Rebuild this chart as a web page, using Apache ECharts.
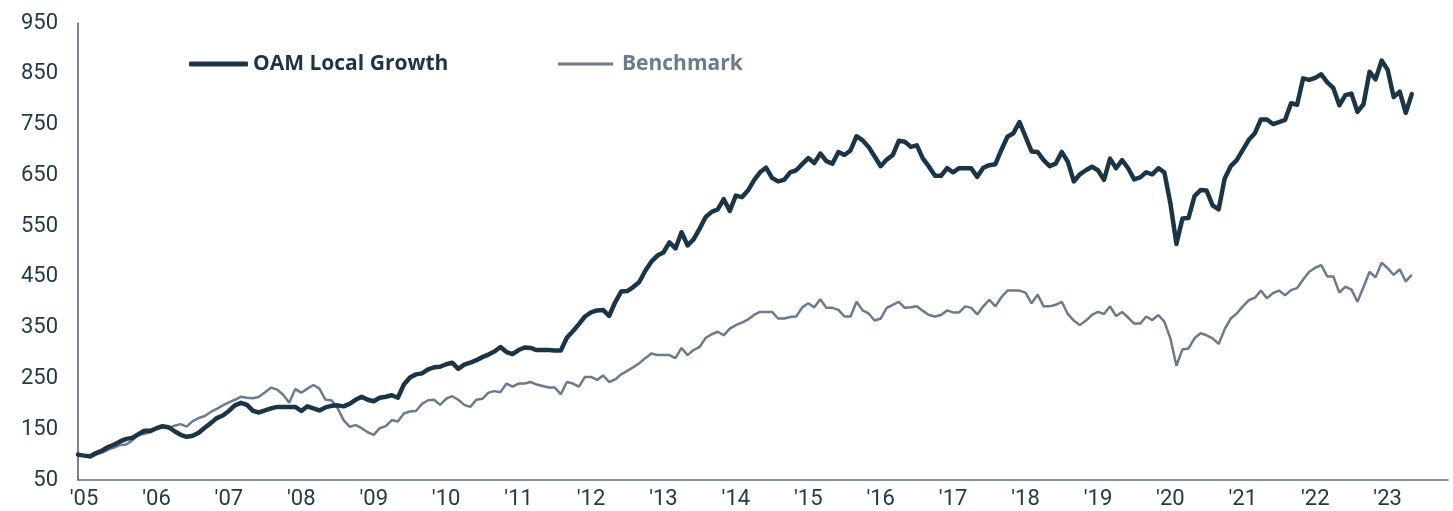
<!DOCTYPE html>
<html>
<head>
<meta charset="utf-8">
<script src="https://cdn.jsdelivr.net/npm/echarts@6/dist/echarts.min.js"></script>
<style>
  html, body { margin: 0; padding: 0; background: #fff; }
  #chart { width: 1453px; height: 511px; }
</style>
</head>
<body>
<div id="chart"></div>
<script>
  // one category per month, Dec 2004 (base = 100) to Nov 2023
  const years = ['05','06','07','08','09','10','11','12','13','14','15','16','17','18','19','20','21','22','23'];
  const months = ["'04-12"];
  years.forEach((y, i) => {
    for (let m = 1; m <= 12; m++) {
      if (i === years.length - 1 && m > 11) break;
      months.push("'" + y + '-' + m);
    }
  });

  // monthly index values
  const oamLocalGrowth = [
    100, 98, 97, 103, 108, 115, 120, 126, 131, 133, 140, 147,
    147, 152, 156, 154, 146, 139, 135, 137, 143, 153, 162, 172,
    177, 186, 197, 202, 198, 186, 183, 187, 191, 194, 194, 194,
    194, 186, 195, 191, 187, 193, 196, 197, 195, 200, 208, 214,
    208, 205, 212, 214, 217, 212, 238, 252, 258, 260, 268, 272,
    273, 278, 281, 269, 277, 281, 286, 292, 297, 303, 312, 302,
    298, 306, 311, 310, 306, 306, 306, 305, 305, 330, 343, 357,
    372, 380, 384, 385, 373, 400, 421, 422, 430, 440, 462, 480,
    492, 498, 518, 506, 538, 512, 524, 545, 568, 578, 583, 603,
    580, 610, 607, 620, 640, 656, 665, 645, 638, 641, 656, 660,
    672, 684, 674, 693, 678, 673, 696, 690, 699, 727, 719, 706,
    687, 668, 681, 690, 718, 716, 706, 709, 683, 667, 649, 649,
    664, 656, 664, 664, 664, 647, 665, 670, 672, 700, 726, 733,
    755, 726, 697, 696, 680, 668, 673, 696, 677, 638, 652, 660,
    667, 660, 641, 683, 664, 680, 664, 642, 646, 656, 652, 664,
    656, 595, 515, 565, 566, 609, 621, 620, 591, 583, 644, 668,
    680, 700, 720, 733, 760, 760, 751, 755, 759, 792, 789, 841,
    838, 842, 849, 833, 822, 788, 808, 811, 775, 790, 854, 839,
    876, 858, 804, 815, 773, 810
  ];
  const benchmark = [
    100, 98, 94, 100, 104, 110, 114, 119, 120, 128, 139, 141,
    144, 150, 154, 152, 157, 160, 155, 166, 172, 176, 184, 190,
    197, 203, 208, 214, 212, 211, 214, 223, 232, 228, 218, 202,
    229, 222, 230, 237, 230, 208, 207, 192, 168, 155, 158, 152,
    144, 139, 152, 156, 168, 165, 181, 185, 186, 200, 207, 208,
    198, 210, 215, 208, 198, 194, 208, 210, 222, 225, 223, 240,
    234, 240, 240, 243, 238, 235, 232, 232, 219, 243, 240, 234,
    253, 253, 247, 256, 243, 248, 258, 265, 272, 280, 290, 299,
    296, 296, 296, 290, 310, 296, 306, 312, 330, 337, 342, 335,
    348, 355, 360, 366, 375, 381, 381, 381, 368, 368, 371, 372,
    390, 398, 390, 406, 389, 389, 385, 372, 372, 401, 384, 378,
    364, 368, 389, 395, 401, 389, 390, 392, 383, 375, 372, 375,
    384, 380, 380, 392, 389, 376, 392, 405, 392, 410, 423, 423,
    423, 419, 398, 415, 392, 392, 395, 401, 377, 364, 355, 364,
    375, 381, 377, 392, 373, 381, 370, 358, 358, 372, 365, 375,
    362, 329, 275, 307, 309, 329, 339, 335, 329, 318, 347, 368,
    378, 392, 404, 409, 423, 408, 418, 423, 414, 424, 428, 445,
    460, 468, 473, 451, 451, 419, 431, 425, 401, 430, 460, 449,
    478, 467, 454, 465, 441, 454
  ];

  const darkColor = '#1b3547';
  const greyColor = '#6b7a8d';
  const labelColor = '#233a4b';
  const legendFont = 'Open Sans';

  const chart = echarts.init(document.getElementById('chart'));
  const option = {
    animation: false,
    backgroundColor: '#ffffff',
    grid: { left: 78, right: 5, top: 23, bottom: 31, containLabel: false },
    legend: [
      {
        data: ['OAM Local Growth'],
        left: 189, top: 53, padding: 0,
        icon: 'roundRect',
        itemWidth: 59, itemHeight: 5, itemGap: 0,
        textStyle: { color: darkColor, fontSize: 21, fontWeight: 'bold', fontFamily: legendFont, lineHeight: 22 }
      },
      {
        data: ['Benchmark'],
        left: 558, top: 53, padding: 0,
        icon: 'rect',
        itemWidth: 55, itemHeight: 3, itemGap: 0,
        textStyle: { color: greyColor, fontSize: 21, fontWeight: 'bold', fontFamily: legendFont, lineHeight: 22, padding: [0, 0, 0, 4] }
      }
    ],
    xAxis: {
      type: 'category',
      boundaryGap: false,
      data: months,
      axisLine: { show: true, lineStyle: { color: '#5d6b78', width: 1.5 } },
      axisTick: { show: false },
      splitLine: { show: false },
      axisLabel: {
        interval: (index) => index % 12 === 1,
        color: labelColor,
        fontSize: 22,
        fontFamily: 'Roboto',
        margin: 8,
        formatter: (v) => v.split('-')[0]
      }
    },
    yAxis: {
      type: 'value',
      min: 50,
      max: 950,
      interval: 100,
      axisLine: { show: true, lineStyle: { color: '#4a5866', width: 1.5 } },
      axisTick: { show: false },
      splitLine: { show: false },
      axisLabel: { color: labelColor, fontSize: 22, fontFamily: 'Roboto', margin: 20 }
    },
    series: [
      {
        name: 'Benchmark',
        type: 'line',
        data: benchmark,
        symbol: 'none',
        lineStyle: { color: greyColor, width: 2.5 },
        itemStyle: { color: greyColor },
        z: 2
      },
      {
        name: 'OAM Local Growth',
        type: 'line',
        data: oamLocalGrowth,
        symbol: 'none',
        lineStyle: { color: darkColor, width: 4.5, cap: 'round', join: 'round' },
        itemStyle: { color: darkColor },
        z: 3
      }
    ]
  };
  chart.setOption(option);
</script>
</body>
</html>
